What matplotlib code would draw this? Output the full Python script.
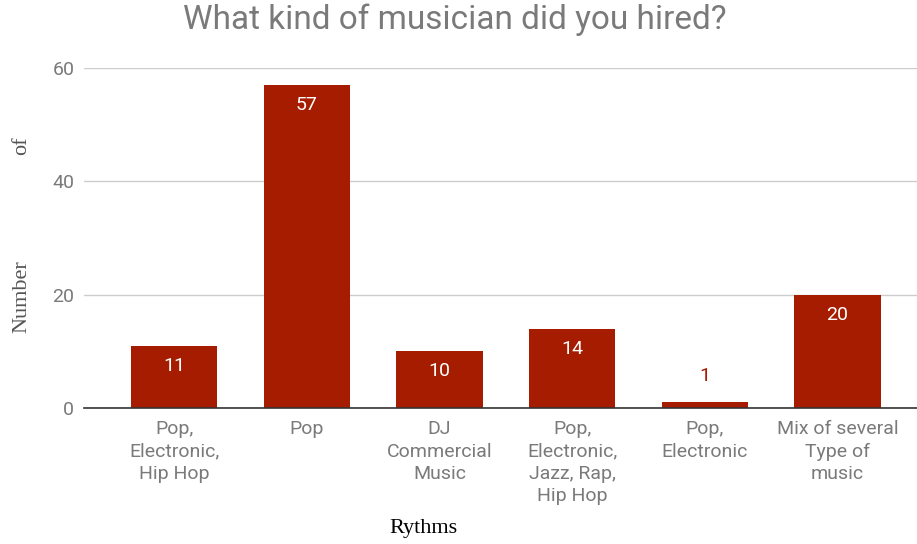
import matplotlib
matplotlib.use("Agg")
import matplotlib.pyplot as plt

categories = ["Pop,\nElectronic,\nHip Hop", "Pop", "DJ\nCommercial\nMusic",
              "Pop,\nElectronic,\nJazz, Rap,\nHip Hop", "Pop,\nElectronic",
              "Mix of several\nType of\nmusic"]
counts = [11, 57, 10, 14, 1, 20]
y_ticks = [0, 20, 40, 60]

bar_color = "#a61c00"
text_gray = "#7a7a7a"

fig = plt.figure(figsize=(9.17, 5.44), dpi=100)
ax = fig.add_axes([0.0916, 0.25, 0.9084, 0.625])

x = list(range(len(categories)))
bars = ax.bar(x, counts, width=0.65, color=bar_color, zorder=3)

ax.set_xlim(-0.68, 5.6)
ax.set_ylim(0, 60)
ax.set_yticks(y_ticks)
ax.set_yticklabels([str(t) for t in y_ticks], family="Roboto", fontsize=14, color=text_gray)
ax.set_xticks(x)
ax.set_xticklabels(categories, family="Roboto", fontsize=14, color=text_gray,
                   linespacing=1.3, va="top")
ax.tick_params(axis="both", length=0)
ax.tick_params(axis="y", pad=7)
ax.tick_params(axis="x", pad=9)

ax.grid(axis="y", color="#cccccc", linewidth=1, zorder=0)
for s in ["top", "right", "left"]:
    ax.spines[s].set_visible(False)
ax.spines["bottom"].set_color("#333333")
ax.spines["bottom"].set_linewidth(1.2)
ax.spines["bottom"].set_zorder(4)

# value labels: inside the bar when it is tall enough, otherwise above it
for rect, v in zip(bars, counts):
    cx = rect.get_x() + rect.get_width() / 2
    if v >= 5:
        ax.annotate(str(v), (cx, v), xytext=(0, -14.5), textcoords="offset points",
                    ha="center", va="center", family="Roboto", fontsize=14,
                    color="white", zorder=5)
    else:
        ax.annotate(str(v), (cx, v), xytext=(0, 19), textcoords="offset points",
                    ha="center", va="center", family="Roboto", fontsize=14,
                    color=bar_color, zorder=5)

fig.text(455 / 917, 1 - 20 / 544, "What kind of musician did you hired?",
         ha="center", va="center", family="Roboto", fontsize=24, color=text_gray)

fig.text(22 / 917, 1 - 297 / 544, "Number", rotation=90, ha="center", va="center",
         family="Liberation Serif", fontsize=16, color="#555555")
fig.text(22 / 917, 1 - 146 / 544, "of", rotation=90, ha="center", va="center",
         family="Liberation Serif", fontsize=16, color="#555555")
fig.text(423 / 917, 1 - 528 / 544, "Rythms", ha="center", va="center",
         family="Liberation Serif", fontsize=16, color="#000000")

fig.savefig("out.png", dpi=100, facecolor="white")
